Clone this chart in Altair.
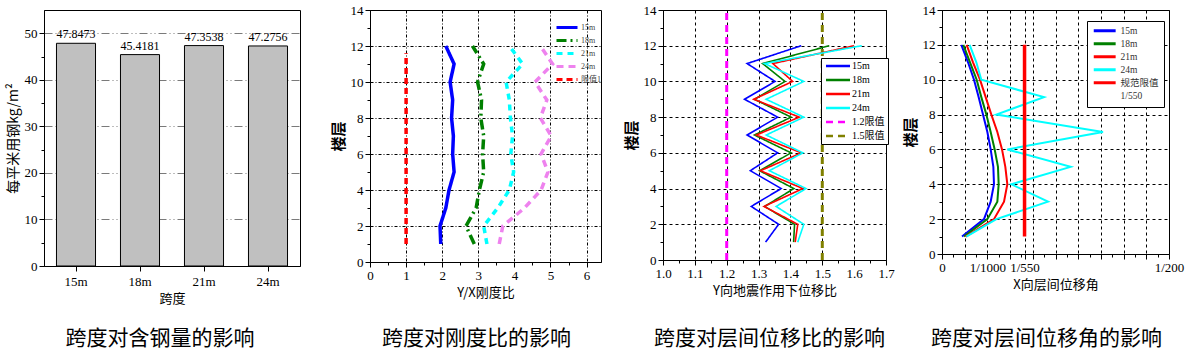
import altair as alt
import pandas as pd

SERIF = "Liberation Serif, Noto Sans CJK SC"
CJK = "Noto Sans CJK SC"

# ---------------- data ----------------
spans = ["15m", "18m", "21m", "24m"]
steel = [47.8473, 45.4181, 47.3538, 47.2756]

floors = [1, 2, 3, 4, 5, 6, 7, 8, 9, 10, 11, 12]

# Y/X stiffness ratio
stiff_15 = [1.96, 1.94, 2.10, 2.19, 2.33, 2.29, 2.31, 2.26, 2.29, 2.22, 2.33, 2.10]
stiff_18 = [2.89, 2.66, 2.94, 3.03, 3.15, 3.12, 3.15, 3.07, 3.09, 2.98, 3.15, 2.84]
stiff_21 = [3.24, 3.15, 3.54, 3.86, 3.98, 3.90, 3.95, 3.89, 3.86, 3.77, 4.23, 3.86]
stiff_24 = [3.58, 3.68, 4.28, 4.74, 4.93, 4.74, 5.02, 4.72, 4.90, 4.57, 5.06, 4.72]
stiff_limit_value = [1, 1]
stiff_limit_floor = [1, 11.6]

# displacement ratio under Y earthquake
disp_15 = [1.322, 1.363, 1.277, 1.371, 1.274, 1.360, 1.264, 1.360, 1.256, 1.352, 1.264, 1.434]
disp_18 = [1.410, 1.413, 1.319, 1.411, 1.303, 1.402, 1.287, 1.402, 1.287, 1.383, 1.313, 1.522]
disp_21 = [1.415, 1.423, 1.317, 1.439, 1.306, 1.434, 1.293, 1.428, 1.285, 1.407, 1.345, 1.600]
disp_24 = [1.423, 1.442, 1.355, 1.449, 1.334, 1.439, 1.324, 1.442, 1.324, 1.442, 1.319, 1.624]
disp_limit_12 = [1.2, 1.2]
disp_limit_15 = [1.5, 1.5]
disp_limit_floor = [0, 14]

# X inter-storey drift angle
drift_15 = [0.000441, 0.000925, 0.001072, 0.001145, 0.001131, 0.001072, 0.000999, 0.000903, 0.000808, 0.000705, 0.000573, 0.000426]
drift_18 = [0.000485, 0.000999, 0.001219, 0.001248, 0.001233, 0.001160, 0.001072, 0.000977, 0.000866, 0.000764, 0.000617, 0.000470]
drift_21 = [0.000521, 0.001145, 0.001366, 0.001439, 0.001395, 0.001322, 0.001219, 0.001087, 0.000962, 0.000837, 0.000683, 0.000543]
drift_24 = [0.000536, 0.001197, 0.002335, 0.001527, 0.002834, 0.001439, 0.003546, 0.001197, 0.002247, 0.000866, 0.000756, 0.000609]
drift_limit_value = [1 / 550, 1 / 550]
drift_limit_floor = [1, 12]

floor_ticks = [0, 2, 4, 6, 8, 10, 12, 14]
floor_minor = [1, 3, 5, 7, 9, 11, 13]
stiff_ticks = [0, 1, 2, 3, 4, 5, 6]
stiff_minor = [0.5, 1.5, 2.5, 3.5, 4.5, 5.5]
disp_ticks = [1.0, 1.1, 1.2, 1.3, 1.4, 1.5, 1.6, 1.7]
disp_minor = [1.05, 1.15, 1.25, 1.35, 1.45, 1.55, 1.65]
drift_ticks = [0, 0.0005, 0.001, 0.0015, 1 / 550, 0.002, 0.0025, 0.003, 0.0035, 0.004, 0.0045, 0.005]
drift_minor = [0.00025, 0.00075, 0.00125, 0.00175, 0.00225, 0.00275, 0.00325, 0.00375, 0.00425, 0.00475]
steel_ticks = [0, 10, 20, 30, 40, 50]
steel_minor = [5, 15, 25, 35, 45]

subtitles = ["跨度对含钢量的影响", "跨度对刚度比的影响", "跨度对层间位移比的影响", "跨度对层间位移角的影响"]


def long_frame(names, arrays, floor_lists):
    rows = []
    for n, arr, fl in zip(names, arrays, floor_lists):
        for f, v in zip(fl, arr):
            rows.append({"series": n, "floor": f, "value": v})
    return pd.DataFrame(rows)


def spacer(w, h):
    return (
        alt.Chart(pd.DataFrame({"v": [0]}))
        .mark_point(size=1, opacity=0)
        .encode(x=alt.value(0), y=alt.value(0))
        .properties(width=w, height=h, view=alt.ViewBackground(strokeOpacity=0))
    )


def minor_axis(values, orient):
    return alt.Axis(values=values, orient=orient, labels=False, title=None, grid=False, domain=False,
                    tickSize=3)


def minor_layer(df, xdomain, xminor, yfield, ydomain, yminor):
    enc = dict(y=alt.Y(f"{yfield}:Q", scale=alt.Scale(domain=ydomain, nice=False, zero=False),
                       axis=minor_axis(yminor, "left")))
    if xdomain is not None:
        enc["x"] = alt.X("value:Q", scale=alt.Scale(domain=xdomain, nice=False, zero=False),
                         axis=minor_axis(xminor, "bottom"))
    return alt.Chart(df).mark_point(opacity=0, size=1).encode(**enc)


def floor_axis():
    return alt.Axis(values=floor_ticks, title="楼层", titleFontSize=15, titleFontWeight="bold",
                    grid=True, gridColor="black", gridDash=[3, 3], format="d")


def subtitle(text, offset, dx):
    return alt.TitleParams(text, orient="bottom", font=CJK, fontSize=21, fontWeight="normal",
                           color="black", offset=offset, anchor="middle", dx=dx)


# ---------------- panel 1: steel per m2 ----------------
df1 = pd.DataFrame({"span": spans, "steel": steel})
x1 = alt.X("span:N", sort=spans, scale=alt.Scale(paddingInner=0.39, paddingOuter=0.195),
           axis=alt.Axis(title="跨度", labelAngle=0, labelPadding=4, titlePadding=4))
y1 = alt.Y("steel:Q", scale=alt.Scale(domain=[0, 55], nice=False),
           axis=alt.Axis(values=steel_ticks, grid=True, gridColor="#7a7a7a", gridDash=[8, 3, 1, 3, 1, 3],
                         title="每平米用钢kg/m²", titleFontSize=14))
bars = alt.Chart(df1).mark_bar(color="#c0c0c0", stroke="black", strokeWidth=1).encode(x=x1, y=y1)
bar_text = alt.Chart(df1).mark_text(baseline="bottom", dy=-2, font=SERIF, fontSize=12, color="black").encode(
    x=x1, y=alt.Y("steel:Q"), text=alt.Text("steel:Q", format=".4f"))
p1 = (
    alt.layer(
        alt.layer(bars, bar_text),
        minor_layer(df1, None, None, "steel", [0, 55], steel_minor),
    )
    .resolve_scale(y="independent")
    .properties(width=256, height=256, title=subtitle(subtitles[0], 23, -12))
)

# ---------------- panel 2: stiffness ratio ----------------
dom2 = ["15m", "18m", "21m", "24m", "限值1"]
col2 = ["#0000ff", "#008000", "#00ffff", "#ee82ee", "#ff0000"]
dash2 = [[1, 0], [10, 4, 2, 4], [6, 5], [7, 5], [6, 4]]
leg2 = alt.Legend(title=None, orient="none", legendX=183, legendY=11, symbolType="M-1,0H6", symbolSize=36,
                  symbolStrokeWidth=3, labelFont=SERIF, labelFontSize=8, labelOffset=17, rowPadding=0,
                  padding=2, labelColor="#444")
df2 = long_frame(["15m", "18m", "21m", "24m"], [stiff_15, stiff_18, stiff_21, stiff_24], [floors] * 4)
df2l = long_frame(["限值1"], [stiff_limit_value], [stiff_limit_floor])
enc2 = dict(
    x=alt.X("value:Q", scale=alt.Scale(domain=[0, 6.4], nice=False),
            axis=alt.Axis(values=stiff_ticks, title="Y/X刚度比", grid=True, gridColor="black",
                          gridDash=[3, 2, 1, 2])),
    y=alt.Y("floor:Q", scale=alt.Scale(domain=[0, 14], nice=False),
            axis=alt.Axis(values=floor_ticks, title="楼层", titleFontSize=15, titleFontWeight="bold",
                          grid=True, gridColor="black", gridDash=[3, 2, 1, 2], format="d")),
    color=alt.Color("series:N", scale=alt.Scale(domain=dom2, range=col2), legend=leg2),
    strokeDash=alt.StrokeDash("series:N", scale=alt.Scale(domain=dom2, range=dash2), legend=leg2),
    order=alt.Order("floor:Q"),
)
p2 = (
    alt.layer(
        alt.layer(
            alt.Chart(df2l).mark_line(strokeWidth=3.5).encode(**enc2),
            alt.Chart(df2).mark_line(strokeWidth=3.5).encode(**enc2),
        ),
        minor_layer(df2, [0, 6.4], stiff_minor, "floor", [0, 14], floor_minor),
    )
    .resolve_scale(x="independent", y="independent")
    .properties(width=231, height=252, title=subtitle(subtitles[1], 29, -9))
)

# ---------------- panel 3: displacement ratio ----------------
dom3 = ["15m", "18m", "21m", "24m", "1.2限值", "1.5限值"]
col3 = ["#0000ff", "#008000", "#ff0000", "#00ffff", "#ff00ff", "#808000"]
dash3 = [[1, 0], [1, 0], [1, 0], [1, 0], [7, 5], [7, 5]]
leg3 = alt.Legend(title=None, orient="none", legendX=158, legendY=48, symbolType="M-1,0H7", symbolSize=36,
                  symbolStrokeWidth=2.5, labelFont=SERIF, labelFontSize=10, labelOffset=18, rowPadding=4,
                  padding=3, strokeColor="black", fillColor="white", labelColor="black")
df3 = long_frame(["15m", "18m", "21m", "24m"], [disp_15, disp_18, disp_21, disp_24], [floors] * 4)
df3l = long_frame(["1.2限值", "1.5限值"], [disp_limit_12, disp_limit_15], [disp_limit_floor] * 2)
enc3 = dict(
    x=alt.X("value:Q", scale=alt.Scale(domain=[1.0, 1.7], nice=False, zero=False),
            axis=alt.Axis(values=disp_ticks, format=".1f", title="Y向地震作用下位移比", grid=True,
                          gridColor="black", gridDash=[3, 3])),
    y=alt.Y("floor:Q", scale=alt.Scale(domain=[0, 14], nice=False), axis=floor_axis()),
    color=alt.Color("series:N", scale=alt.Scale(domain=dom3, range=col3), legend=leg3),
    strokeDash=alt.StrokeDash("series:N", scale=alt.Scale(domain=dom3, range=dash3), legend=leg3),
    order=alt.Order("floor:Q"),
)
p3 = (
    alt.layer(
        alt.layer(
            alt.Chart(df3l).mark_line(strokeWidth=3).encode(**enc3),
            alt.Chart(df3).mark_line(strokeWidth=1.6).encode(**enc3),
        ),
        minor_layer(df3, [1.0, 1.7], disp_minor, "floor", [0, 14], floor_minor),
    )
    .resolve_scale(x="independent", y="independent")
    .properties(width=223, height=250, title=subtitle(subtitles[2], 31, -5))
)

# ---------------- panel 4: drift angle ----------------
dom4 = ["15m", "18m", "21m", "24m", "规范限值", "1/550"]
col4 = ["#0000ff", "#008000", "#ff0000", "#00ffff", "#ff0000", "transparent"]
leg4 = alt.Legend(title=None, orient="none", legendX=145, legendY=11, symbolType="M-1,0H6.3", symbolSize=36,
                  symbolStrokeWidth=3, labelFont=SERIF, labelFontSize=9.5, labelOffset=19, rowPadding=0,
                  padding=5, strokeColor="black", fillColor="white", labelColor="#333")
df4 = long_frame(["15m", "18m", "21m", "24m"], [drift_15, drift_18, drift_21, drift_24], [floors] * 4)
df4l = long_frame(["规范限值"], [drift_limit_value], [drift_limit_floor])
label4 = ("abs(datum.value) < 1e-9 ? '0' : abs(datum.value - 0.001) < 1e-9 ? '1/1000' : "
          "abs(datum.value - 1/550) < 1e-9 ? '1/550' : abs(datum.value - 0.005) < 1e-9 ? '1/200' : ''")
enc4 = dict(
    x=alt.X("value:Q", scale=alt.Scale(domain=[0, 0.005], nice=False),
            axis=alt.Axis(values=drift_ticks, labelExpr=label4, labelOverlap=False, title="X向层间位移角",
                          grid=True, gridColor="black", gridDash=[3, 3])),
    y=alt.Y("floor:Q", scale=alt.Scale(domain=[0, 14], nice=False), axis=floor_axis()),
    color=alt.Color("series:N", scale=alt.Scale(domain=dom4, range=col4), legend=leg4),
    order=alt.Order("floor:Q"),
)
p4 = (
    alt.layer(
        alt.layer(
            alt.Chart(df4).mark_line(strokeWidth=2).encode(**enc4),
            alt.Chart(df4l).mark_line(strokeWidth=3.5).encode(**enc4),
        ),
        minor_layer(df4, [0, 0.005], drift_minor, "floor", [0, 14], floor_minor),
    )
    .resolve_scale(x="independent", y="independent")
    .properties(width=227, height=244, title=subtitle(subtitles[3], 37, -9))
)


chart = (
    alt.hconcat(
        p1, spacer(70, 1), p2, spacer(62, 1), p3, spacer(56, 1), p4,
        spacing=0, bounds="flush",
    )
    .resolve_scale(color="independent", strokeDash="independent", x="independent", y="independent")
    .properties(padding={"left": 5, "top": 3, "right": 0, "bottom": 0}, background="white")
    .configure_view(stroke="black", strokeWidth=1)
    .configure_axis(
        domainColor="black", tickColor="black", labelColor="black", titleColor="black",
        labelFont=SERIF, labelFontSize=13, titleFont=CJK, titleFontSize=13, titleFontWeight="normal",
        tickSize=5, labelPadding=2, labelFlush=False,
    )
    .configure_legend(symbolFillColor="transparent")
)

chart.save("out.html", embed_options={"renderer": "svg", "actions": False})
